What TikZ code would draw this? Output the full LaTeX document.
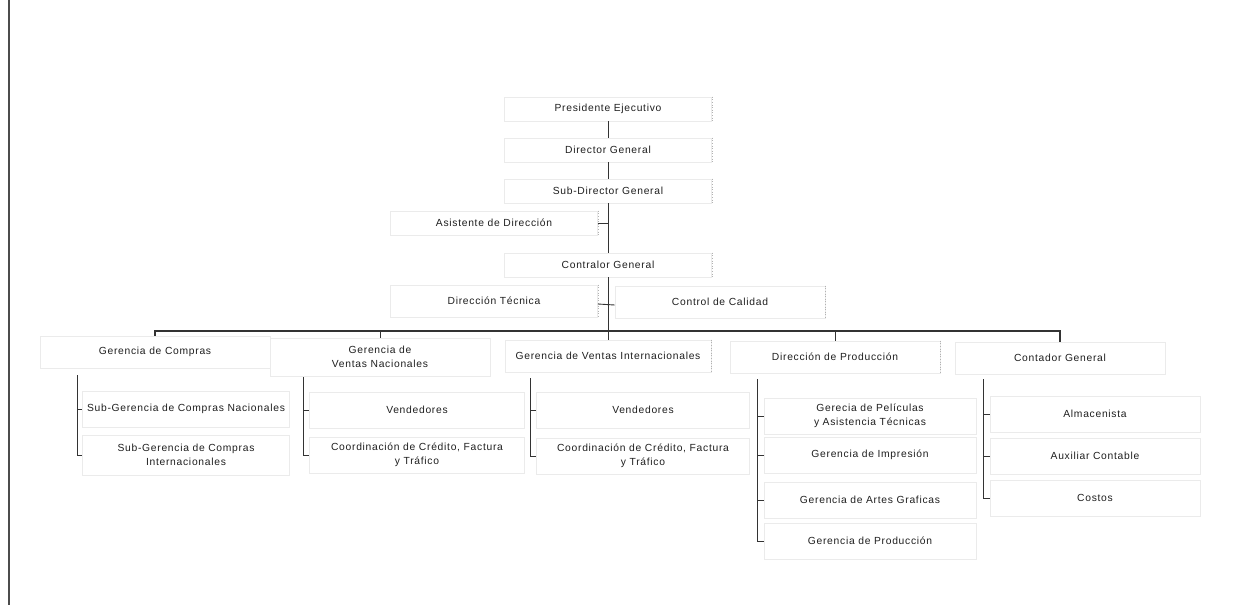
\documentclass[tikz,border=0pt]{standalone}
\usepackage{fontspec}
\newfontfamily\orgfont{Liberation Sans}[LetterSpace=7]
\begin{document}
\begin{tikzpicture}[x=1pt,y=-1pt,
  box/.style={draw=black!8, line width=0.6pt, text=black!88, align=center,
    inner sep=0pt, font=\orgfont\fontsize{10.3}{14.5}\selectfont},
  top/.style={box, minimum width=207pt, minimum height=24pt},
  lvl/.style={box, minimum height=32pt},
  sub/.style={box, minimum height=36pt},
  rdot/.style={draw=black!30, dotted, line width=0.6pt},
  conn/.style={draw=black!80, line width=0.9pt},
  bus/.style={draw=black!80, line width=1.3pt}]
\useasboundingbox (0,0) rectangle (1233,605);
\fill[white] (0,0) rectangle (1233,605);
% left border
\draw[black!70, line width=2pt] (9,0) -- (9,605);

% upper chain
\node[top] (pres) at (608,109) {Presidente Ejecutivo};
\node[top] (dirg) at (608,150) {Director General};
\node[top] (subd) at (608,191) {Sub-Director General};
\node[top] (asis) at (494,223) {Asistente de Dirección};
\node[top] (contr) at (608,265) {Contralor General};
\node[top, minimum height=32pt] (dtec) at (494,301) {Dirección Técnica};
\node[top, minimum height=32pt, minimum width=210pt] (calid) at (720,302) {Control de Calidad};

% second level
\node[lvl, minimum width=230pt] (gcomp) at (155,352) {Gerencia de Compras};
\node[lvl, minimum width=220pt, minimum height=38pt] (gvn) at (380,357) {Gerencia de\\Ventas Nacionales};
\node[lvl, minimum width=206pt] (gvi) at (608,356) {Gerencia de Ventas Internacionales};
\node[lvl, minimum width=210pt] (dprod) at (835,357) {Dirección de Producción};
\node[lvl, minimum width=210pt] (cont) at (1060,358) {Contador General};

% third level
\node[sub, minimum width=207pt] (scn) at (186,409) {Sub-Gerencia de Compras Nacionales};
\node[sub, minimum width=207pt, minimum height=40pt] (sci) at (186,455) {Sub-Gerencia de Compras\\Internacionales};
\node[sub, minimum width=215pt] (ven1) at (417,410) {Vendedores};
\node[sub, minimum width=215pt] (coo1) at (417,455) {Coordinación de Crédito, Factura\\y Tráfico};
\node[sub, minimum width=213pt] (ven2) at (643,410) {Vendedores};
\node[sub, minimum width=213pt] (coo2) at (643,456) {Coordinación de Crédito, Factura\\y Tráfico};
\node[sub, minimum width=212pt] (gpel) at (870,416) {Gerecia de Películas\\y Asistencia Técnicas};
\node[sub, minimum width=212pt] (gimp) at (870,455) {Gerencia de Impresión};
\node[sub, minimum width=212pt] (gart) at (870,500) {Gerencia de Artes Graficas};
\node[sub, minimum width=212pt] (gpro) at (870,541) {Gerencia de Producción};
\node[sub, minimum width=210pt] (alm) at (1095,414) {Almacenista};
\node[sub, minimum width=210pt] (aux) at (1095,456) {Auxiliar Contable};
\node[sub, minimum width=210pt] (cost) at (1095,498) {Costos};

% dotted right edges
\foreach \n in {pres,dirg,subd,asis,contr,dtec,calid,gvi,dprod}
  \draw[rdot] (\n.north east) -- (\n.south east);

% spine
\draw[conn] (pres.south) -- (dirg.north);
\draw[conn] (dirg.south) -- (subd.north);
\draw[conn] (subd.south) -- (contr.north);
\draw[conn] (asis.east) -- (asis.east -| subd.south);
\draw[conn] (contr.south) -- (gvi.north);
\draw[conn] ([yshift=-3pt]dtec.east) -- ([yshift=-3pt]calid.west);

% bus
\coordinate (busL) at (155,331);
\coordinate (busR) at (1060,331);
\draw[bus] (gcomp.north) -- (gcomp.north |- busL) -- (busR) -- (cont.north);
\draw[conn] (gvn.north |- busL) -- (gvn.north);
\draw[conn] (dprod.north |- busL) -- (dprod.north);

% brackets
\coordinate (bc) at (77,375);
\coordinate (bv) at (303,377);
\coordinate (bi) at (530,378);
\coordinate (bp) at (757,379);
\coordinate (bk) at (983,379);
\draw[conn] (bc) |- (sci.west);
\draw[conn] (bc |- scn.west) -- (scn.west);
\draw[conn] (bv) |- (coo1.west);
\draw[conn] (bv |- ven1.west) -- (ven1.west);
\draw[conn] (bi) |- (coo2.west);
\draw[conn] (bi |- ven2.west) -- (ven2.west);
\draw[conn] (bp) |- (gpro.west);
\draw[conn] (bp |- gpel.west) -- (gpel.west);
\draw[conn] (bp |- gimp.west) -- (gimp.west);
\draw[conn] (bp |- gart.west) -- (gart.west);
\draw[conn] (bk) |- (cost.west);
\draw[conn] (bk |- alm.west) -- (alm.west);
\draw[conn] (bk |- aux.west) -- (aux.west);
\end{tikzpicture}
\end{document}
